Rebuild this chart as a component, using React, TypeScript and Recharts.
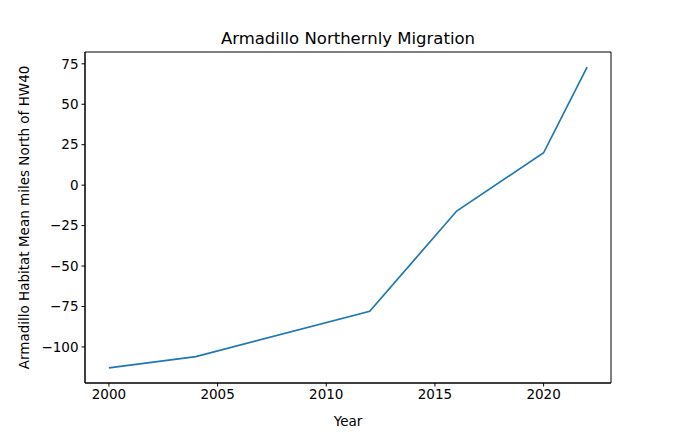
import { LineChart, Line, XAxis, YAxis, Label, ReferenceArea } from "recharts";

// --- DATA ---
const years = [2000, 2004, 2012, 2016, 2020, 2022];
const milesNorth = [-113, -106, -78, -16, 20, 73];
const xTicks = [2000, 2005, 2010, 2015, 2020];
const yTicks = [-100, -75, -50, -25, 0, 25, 50, 75];

const data = years.map((year, i) => ({ year, miles: milesNorth[i] }));

// matplotlib-style 5% padding around the data
const pad = (lo: number, hi: number): [number, number] => {
    const d = (hi - lo) * 0.05;
    return [lo - d, hi + d];
};
const xDomain = pad(Math.min(...years), Math.max(...years));
const yDomain = pad(Math.min(...milesNorth), Math.max(...milesNorth));

const font = "'DejaVu Sans', sans-serif";
const tickStyle = { fill: "#000", fontSize: 13.5, fontFamily: font };

export default function App() {
    return (
        <div
            style={{
                position: "absolute",
                left: 0,
                top: 0,
                width: 679,
                height: 432,
                background: "#fff",
                fontFamily: font,
            }}
        >
            <div
                style={{
                    position: "absolute",
                    top: 29,
                    left: 85,
                    width: 526,
                    textAlign: "center",
                    fontSize: 16.5,
                    color: "#000",
                    lineHeight: "20px",
                }}
            >
                Armadillo Northernly Migration
            </div>
            <LineChart
                width={679}
                height={432}
                data={data}
                margin={{ top: 52, right: 68, bottom: 0, left: 0 }}
            >
                <XAxis
                    dataKey="year"
                    type="number"
                    domain={xDomain}
                    ticks={xTicks}
                    allowDataOverflow
                    height={49}
                    stroke="#000"
                    tickSize={3.5}
                    tickMargin={3}
                    tick={tickStyle}
                >
                    <Label
                        value="Year"
                        position="insideBottom"
                        offset={6}
                        style={{ fill: "#000", fontSize: 13.5, fontFamily: font }}
                    />
                </XAxis>
                <YAxis
                    type="number"
                    domain={yDomain}
                    ticks={yTicks}
                    allowDataOverflow
                    width={85}
                    stroke="#000"
                    tickSize={3.5}
                    tickMargin={3}
                    tick={tickStyle}
                    tickFormatter={(v: number) => (v < 0 ? `\u2212${Math.abs(v)}` : `${v}`)}
                >
                    <Label
                        value="Armadillo Habitat Mean miles North of HW40"
                        angle={-90}
                        position="insideLeft"
                        offset={24}
                        style={{ textAnchor: "middle", fill: "#000", fontSize: 13.5, fontFamily: font }}
                    />
                </YAxis>
                {/* axes frame, like matplotlib's spines */}
                <ReferenceArea
                    x1={xDomain[0]}
                    x2={xDomain[1]}
                    y1={yDomain[0]}
                    y2={yDomain[1]}
                    fill="none"
                    stroke="#000"
                    strokeWidth={1}
                    fillOpacity={0}
                />
                <Line
                    dataKey="miles"
                    stroke="#1f77b4"
                    strokeWidth={1.7}
                    dot={false}
                    isAnimationActive={false}
                />
            </LineChart>
        </div>
    );
}
